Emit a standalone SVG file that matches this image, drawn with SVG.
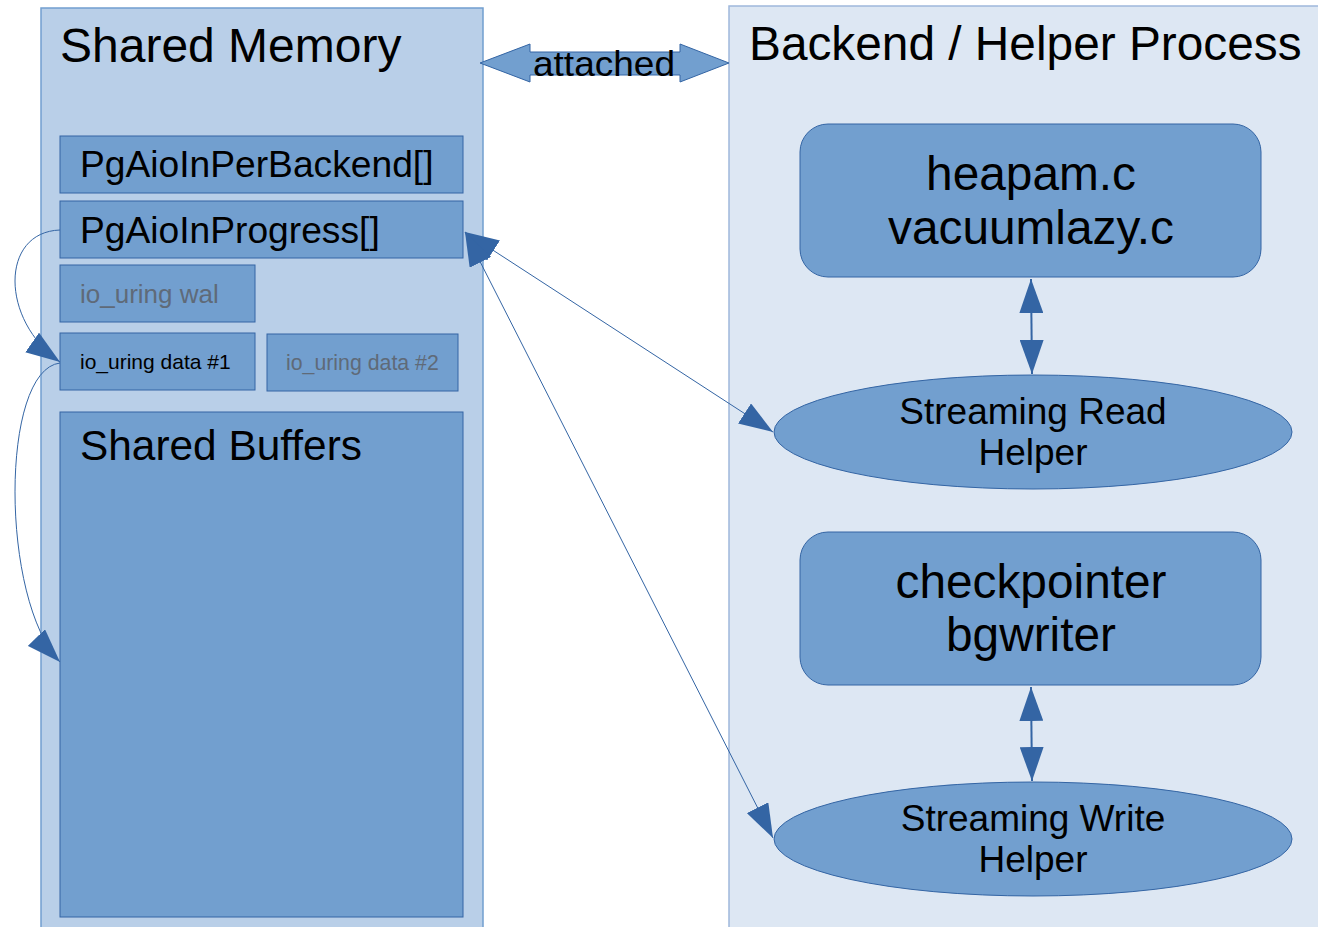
<svg xmlns="http://www.w3.org/2000/svg" width="1318" height="927" viewBox="0 0 1318 927">
  <style>
    text { font-family: "Liberation Sans", Arial, sans-serif; fill: #000; }
    .area-mem { fill: #b9cfe8; stroke: #729fcf; stroke-width: 1.5; }
    .area-proc { fill: #dde7f3; stroke: #9fb8dc; stroke-width: 1.5; }
    .box { fill: #729fcf; stroke: #3465a4; stroke-width: 1; }
    .dim { fill: #5f6a78; }
    .link { fill: none; stroke: #3465a4; stroke-width: 1; }
    .vlink { fill: none; stroke: #3465a4; stroke-width: 2; }
    .mid { text-anchor: middle; }
  </style>
  <defs>
    <marker id="head" markerUnits="userSpaceOnUse" markerWidth="34" markerHeight="24" viewBox="0 0 34 24" refX="34" refY="12" orient="auto-start-reverse">
      <path d="M0,0 L34,12 L0,24 Z" fill="#3465a4"/>
    </marker>
  </defs>

  <!-- shared memory area -->
  <g id="shared-memory">
    <rect class="area-mem" x="41" y="8" width="442" height="930"/>
    <text x="60" y="62" font-size="48">Shared Memory</text>
  </g>

  <!-- process area -->
  <g id="backend-process">
    <rect class="area-proc" x="729" y="6" width="600" height="932"/>
    <text x="749" y="60" font-size="47.8">Backend / Helper Process</text>
  </g>

  <!-- attached block arrow -->
  <g id="attached">
    <path d="M480,63 L530,44 L530,52 L680,52 L680,44 L729,63 L680,82 L680,75 L530,75 L530,82 Z" fill="#729fcf" stroke="#3465a4" stroke-width="1"/>
    <text x="604" y="76" font-size="35" class="mid" textLength="142" lengthAdjust="spacingAndGlyphs">attached</text>
  </g>

  <g id="per-backend">
    <rect class="box" x="60" y="136" width="403" height="57"/>
    <text x="80" y="177" font-size="37.2">PgAioInPerBackend[]</text>
  </g>

  <g id="in-progress">
    <rect class="box" x="60" y="201" width="403" height="57"/>
    <text x="80" y="243" font-size="37.2">PgAioInProgress[]</text>
  </g>

  <g id="uring-wal">
    <rect class="box" x="60" y="265" width="195" height="57"/>
    <text x="80" y="303" font-size="26" class="dim">io_uring wal</text>
  </g>

  <g id="uring-data-1">
    <rect class="box" x="60" y="333" width="195" height="57"/>
    <text x="80" y="369" font-size="21">io_uring data #1</text>
  </g>

  <g id="uring-data-2">
    <rect class="box" x="267" y="334" width="191" height="57"/>
    <text x="286" y="370" font-size="21.3" class="dim">io_uring data #2</text>
  </g>

  <g id="shared-buffers">
    <rect class="box" x="60" y="412" width="403" height="505"/>
    <text x="80" y="460" font-size="42.4">Shared Buffers</text>
  </g>

  <g id="heapam">
    <rect class="box" x="800" y="124" width="461" height="153" rx="28"/>
    <text x="1031" y="190" font-size="47.8" class="mid">heapam.c</text>
    <text x="1031" y="244" font-size="47.8" class="mid">vacuumlazy.c</text>
  </g>

  <g id="read-helper">
    <ellipse class="box" cx="1033" cy="432" rx="259" ry="57"/>
    <text x="1033" y="424" font-size="37" class="mid">Streaming Read</text>
    <text x="1033" y="465" font-size="37" class="mid">Helper</text>
  </g>

  <g id="checkpointer">
    <rect class="box" x="800" y="532" width="461" height="153" rx="28"/>
    <text x="1031" y="598" font-size="47.8" class="mid">checkpointer</text>
    <text x="1031" y="651" font-size="47.8" class="mid">bgwriter</text>
  </g>

  <g id="write-helper">
    <ellipse class="box" cx="1033" cy="839" rx="259" ry="57"/>
    <text x="1033" y="831" font-size="37" class="mid">Streaming Write</text>
    <text x="1033" y="872" font-size="37" class="mid">Helper</text>
  </g>

  <!-- connectors -->
  <g id="connectors">
    <path class="vlink" d="M1031,279 L1032,374" marker-start="url(#head)" marker-end="url(#head)"/>
    <path class="vlink" d="M1031,687 L1032,781" marker-start="url(#head)" marker-end="url(#head)"/>
    <path class="link" d="M465,232 L773,432" marker-start="url(#head)" marker-end="url(#head)"/>
    <path class="link" d="M465,232 L773,838" marker-start="url(#head)" marker-end="url(#head)"/>
    <path class="link" d="M60,230 C0,232 0,320 60,362" marker-end="url(#head)"/>
    <path class="link" d="M60,363 C0,370 0,600 60,662" marker-end="url(#head)"/>
  </g>
</svg>
